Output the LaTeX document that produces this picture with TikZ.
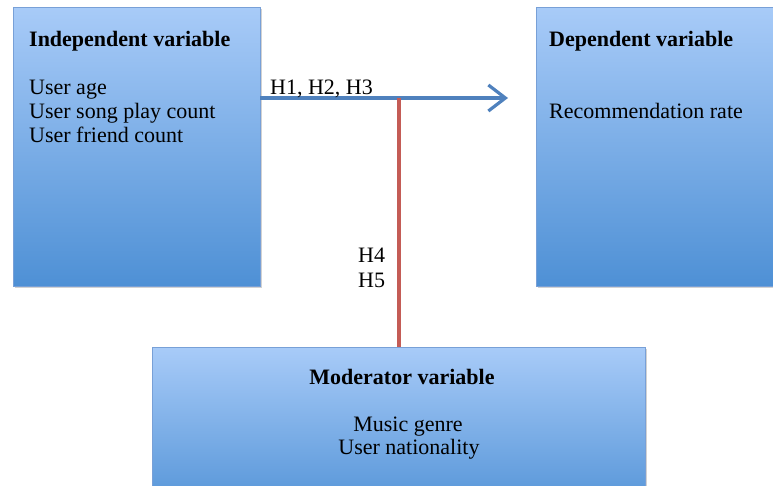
\documentclass[tikz,border=0pt]{standalone}
\usepackage{fontspec}
\setmainfont{Liberation Serif}
\usetikzlibrary{arrows.meta,shadows}
\definecolor{boxtop}{RGB}{168,203,248}
\definecolor{boxbot}{RGB}{78,144,213}
\definecolor{boxedge}{RGB}{120,160,215}
\definecolor{linkblue}{RGB}{79,129,189}
\definecolor{linkred}{RGB}{196,92,86}
\tikzset{
  varbox/.style={rectangle, draw=boxedge, line width=0.6pt, inner sep=0pt,
    top color=boxtop, bottom color=boxbot,
    drop shadow={shadow xshift=1.5pt, shadow yshift=-2pt, opacity=0.35}},
  lbl/.style={inner sep=0pt, anchor=base west, font=\fontsize{22}{24}\selectfont},
  head/.style={lbl, font=\fontsize{22}{24}\selectfont\bfseries},
  clbl/.style={lbl, anchor=base},
  chead/.style={head, anchor=base},
  link/.style={line width=3.2pt, color=linkblue},
  modlink/.style={line width=3.2pt, color=linkred}
}
\begin{document}
\begin{tikzpicture}[x=1pt, y=-1pt]
\clip (0,0) rectangle (773,485);
\fill[white] (0,0) rectangle (773,485);
% the three variable boxes
\node[varbox, minimum width=247pt, minimum height=279pt] (indep) at (136.5,146.5) {};
\node[varbox, minimum width=264pt, minimum height=279pt] (dep) at (668,146.5) {};
\node[varbox, minimum width=493pt, minimum height=173pt] (moder) at (398.5,433.5) {};
% box texts
\node[head] (indephead) at (29,46) {Independent variable};
\node[lbl] (indep1) at (29,94) {User age};
\node[lbl] (indep2) at (29,118) {User song play count};
\node[lbl] (indep3) at (29,142) {User friend count};
\node[head] (dephead) at (549,46) {Dependent variable};
\node[lbl] (dep1) at (549,118) {Recommendation rate};
\node[chead] (modhead) at (402,384) {Moderator variable};
\node[clbl] (mod1) at (408,431) {Music genre};
\node[clbl] (mod2) at (409,454) {User nationality};
% connectors
\coordinate (tippt) at (508,98);
\coordinate (joint) at (399,98);
\draw[link, -{Straight Barb[length=17pt, width=26pt]}] (indep.east |- tippt) -- (tippt);
\draw[modlink] (joint) -- (joint |- moder.north);
% hypothesis labels
\node[lbl] (hyp123) at (270,94) {H1, H2, H3};
\node[lbl] (hyp4) at (358,262) {H4};
\node[lbl] (hyp5) at (358,287) {H5};
\end{tikzpicture}
\end{document}
